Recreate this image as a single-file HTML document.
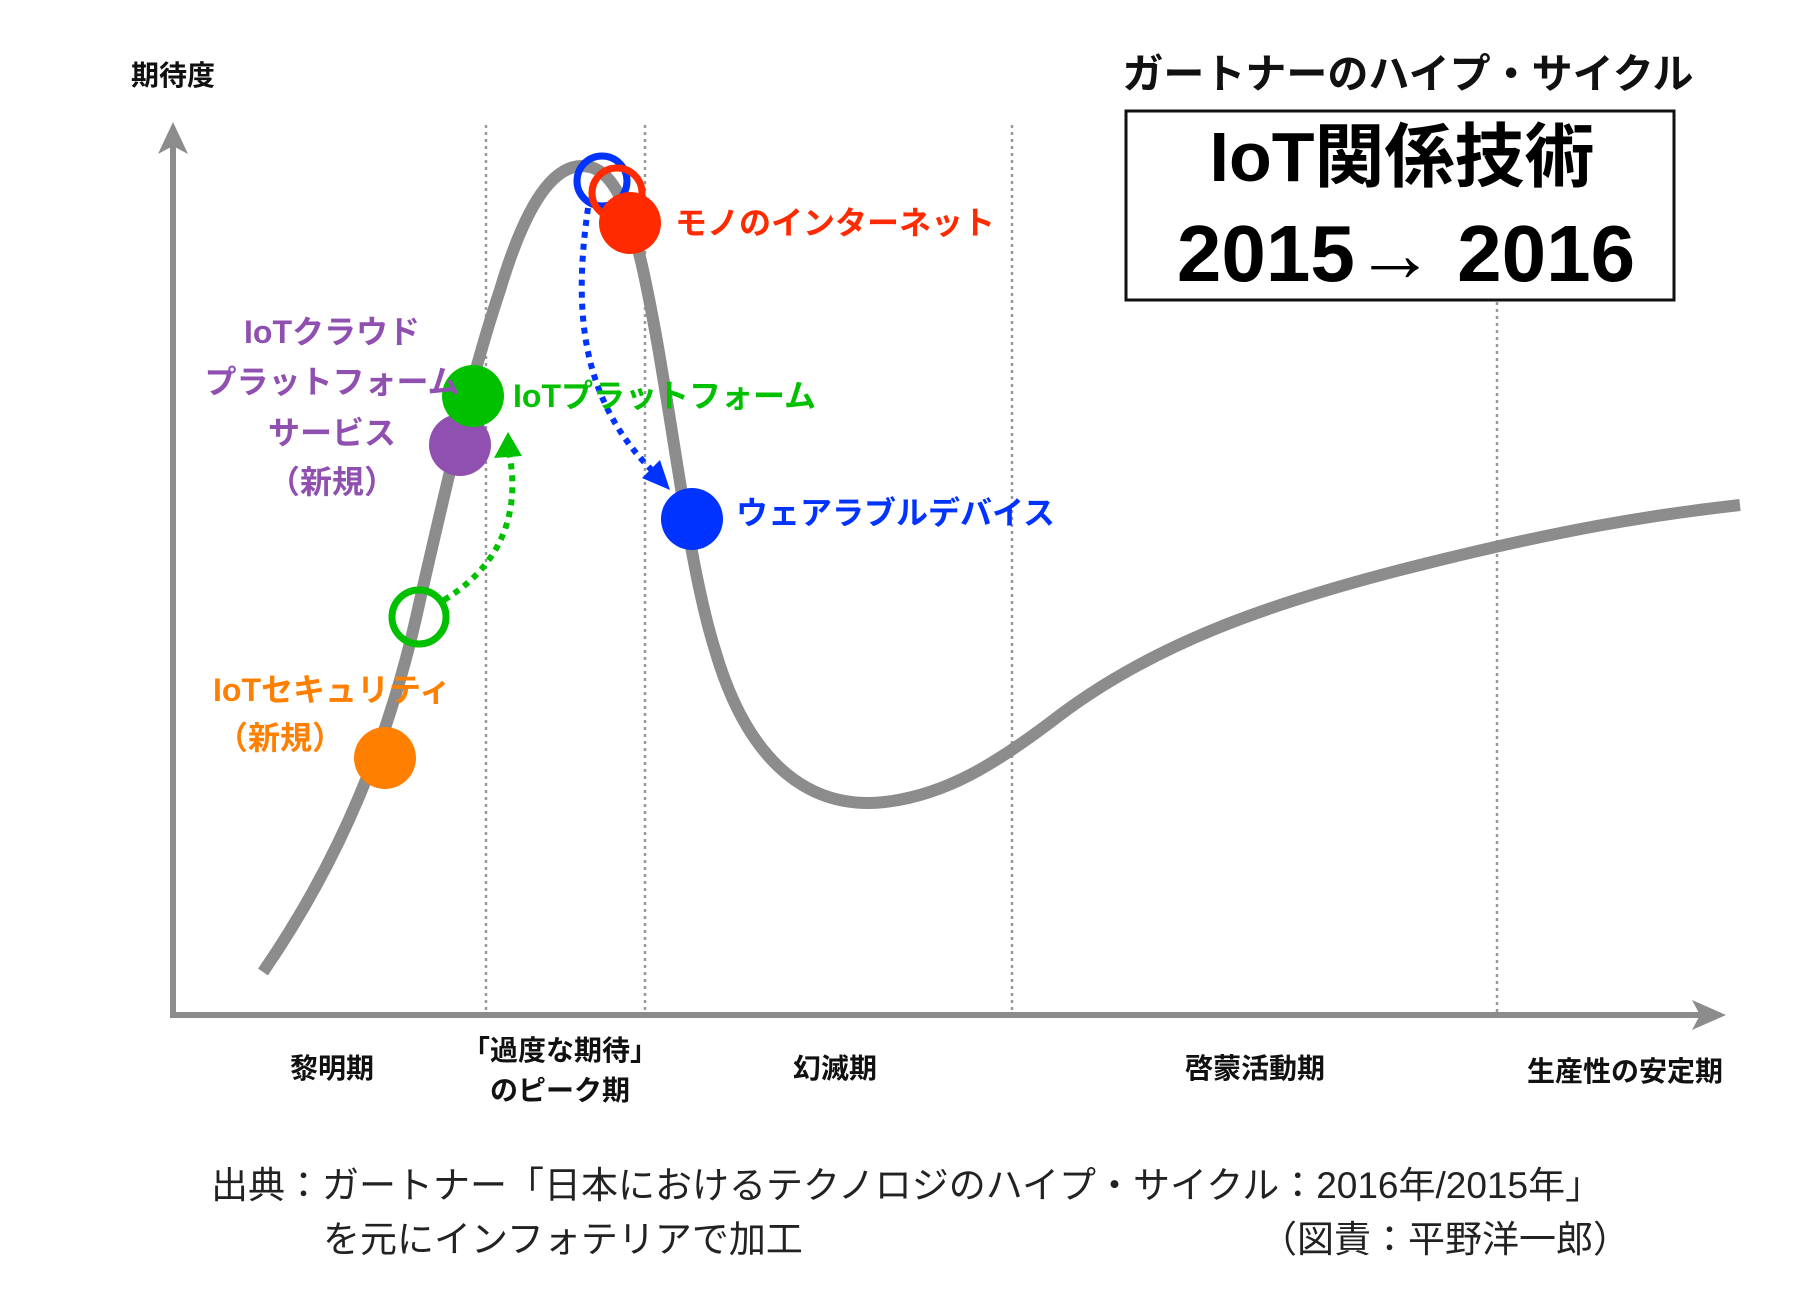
<!DOCTYPE html>
<html><head><meta charset="utf-8"><style>
html,body{margin:0;padding:0;background:#fff;}
svg{display:block;}
text{font-family:"Liberation Sans","Noto Sans CJK JP",sans-serif;}
</style></head><body>
<svg width="1800" height="1300" viewBox="0 0 1800 1300" xmlns="http://www.w3.org/2000/svg">
<g stroke="#999" stroke-width="2.5" stroke-dasharray="3,4">
<line x1="486" y1="125" x2="486" y2="1015"/>
<line x1="645" y1="125" x2="645" y2="1015"/>
<line x1="1012" y1="125" x2="1012" y2="1015"/>
<line x1="1497" y1="302" x2="1497" y2="1015"/>
</g>
<g stroke="#8c8c8c" stroke-width="6" fill="none">
<line x1="173" y1="1017" x2="173" y2="140"/>
<line x1="170" y1="1015" x2="1700" y2="1015"/>
</g>
<path d="M173,122 L158,154 L173,146 L188,154 z" fill="#8c8c8c"/>
<path d="M1726,1015 L1692,1000 L1700,1015 L1692,1030 z" fill="#8c8c8c"/>
<path d="M263,972 C340,860 390,740 420,600 C450,470 470,380 500,290 C530,190 560,160 590,167 C625,175 640,250 655,330 C675,440 690,570 715,650 C750,770 815,810 885,802 C945,795 995,765 1060,715 C1160,640 1280,600 1420,565 C1560,530 1650,515 1740,505" fill="none" stroke="#8c8c8c" stroke-width="12"/>
<path d="M444,600 C510,560 520,500 508,448" fill="none" stroke="#00c000" stroke-width="6" stroke-dasharray="6,6"/>
<path d="M508,432 L494,458 L522,456 z" fill="#00c000"/>
<path d="M588,208 C575,300 575,400 660,478" fill="none" stroke="#0033ff" stroke-width="6" stroke-dasharray="6,6"/>
<path d="M670,490 L642,478 L660,460 z" fill="#0033ff"/>
<circle cx="385" cy="758" r="31" fill="#ff7f00"/>
<circle cx="460" cy="445" r="31" fill="#9050b0"/>
<circle cx="473" cy="396" r="31" fill="#00c000"/>
<circle cx="419" cy="617" r="27" fill="none" stroke="#00c000" stroke-width="7"/>
<circle cx="692" cy="519" r="31" fill="#0033ff"/>
<circle cx="602" cy="181" r="25" fill="none" stroke="#0033ff" stroke-width="7"/>
<circle cx="617" cy="193" r="25" fill="none" stroke="#ff2a00" stroke-width="7"/>
<circle cx="630" cy="223" r="31" fill="#ff2a00"/>
<g font-weight="bold" font-size="32">
<text x="675" y="234" fill="#ff2a00">モノのインターネット</text>
<text x="513" y="407" fill="#00c000">IoTプラットフォーム</text>
<text x="736" y="524" fill="#0033ff">ウェアラブルデバイス</text>
<g fill="#9050b0" text-anchor="middle">
<text x="332" y="343">IoTクラウド</text>
<text x="332" y="393">プラットフォーム</text>
<text x="332" y="444">サービス</text>
<text x="332" y="493">（新規）</text>
</g>
<text x="213" y="701" fill="#ff7f00">IoTセキュリティ</text>
<text x="280" y="749" fill="#ff7f00" text-anchor="middle">（新規）</text>
</g>
<g font-weight="bold" font-size="28" text-anchor="middle" fill="#111">
<text x="173" y="85">期待度</text>
<text x="332" y="1078">黎明期</text>
<text x="560" y="1060">「過度な期待」</text>
<text x="560" y="1100">のピーク期</text>
<text x="835" y="1078">幻滅期</text>
<text x="1255" y="1078">啓蒙活動期</text>
<text x="1625" y="1081">生産性の安定期</text>
</g>
<text x="1408" y="88" font-weight="bold" font-size="41" text-anchor="middle" fill="#111">ガートナーのハイプ・サイクル</text>
<rect x="1133" y="111" width="548" height="189" fill="#fff" stroke="#111" stroke-width="3" transform="translate(-7,0)"/>
<text x="1402" y="181" font-weight="bold" font-size="70" text-anchor="middle" fill="#000">IoT関係技術</text>
<text x="1406" y="281" font-weight="bold" font-size="80" text-anchor="middle" fill="#000">2015→ 2016</text>
<g font-size="37" fill="#222">
<text x="211" y="1198">出典：ガートナー「日本におけるテクノロジのハイプ・サイクル：2016年/2015年」</text>
<text x="323" y="1252">を元にインフォテリアで加工</text>
<text x="1630" y="1252" text-anchor="end">（図責：平野洋一郎）</text>
</g>
</svg>
</body></html>
